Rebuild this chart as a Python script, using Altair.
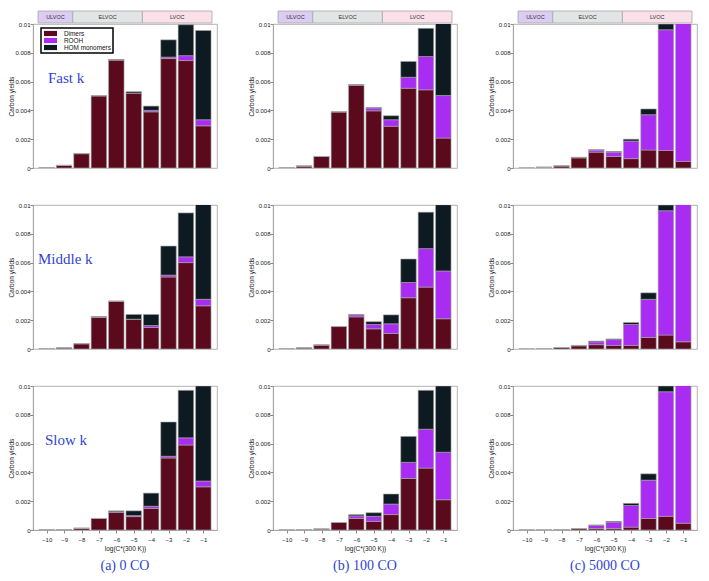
import altair as alt
import pandas as pd

# ---------------- data ----------------
logc = [-10, -9, -8, -7, -6, -5, -4, -3, -2, -1]
series = ["Dimers", "ROOH", "HOM monomers"]
series_colors = ["#5a0a1c", "#a82cf2", "#0e1a22"]
rates = ["Fast k", "Middle k", "Slow k"]
cases = ["(a) 0 CO", "(b) 100 CO", "(c) 5000 CO"]
y_ticks = [0, 0.002, 0.004, 0.006, 0.008, 0.01]

bands = ["ULVOC", "ELVOC", "LVOC"]
band_lo = [-10.5, -8.5, -4.5]
band_hi = [-8.5, -4.5, -0.5]
band_fill = ["#dccbf2", "#e1e5e5", "#fbdfe9"]

# Fast k
fast_0co_dimers = [0.00003, 0.00018, 0.001, 0.005, 0.0075, 0.0052, 0.0039, 0.0076, 0.00746, 0.00293]
fast_0co_rooh = [0, 0, 0, 0.00003, 0, 0, 0.0001, 0.0001, 0.00034, 0.00042]
fast_0co_hom = [0, 0, 0, 0, 0.00003, 0.0001, 0.0003, 0.0012, 0.00215, 0.0062]

fast_100co_dimers = [0.00002, 0.00014, 0.0008, 0.0039, 0.00575, 0.00397, 0.0029, 0.00554, 0.00543, 0.00208]
fast_100co_rooh = [0, 0, 0, 0, 0.00003, 0.00019, 0.00045, 0.00076, 0.00231, 0.00295]
fast_100co_hom = [0, 0, 0, 0, 0.00002, 0.00004, 0.00028, 0.0011, 0.00196, 0.0051]

fast_5000co_dimers = [0, 0.00005, 0.00015, 0.0007, 0.0011, 0.0008, 0.00065, 0.00125, 0.00122, 0.00046]
fast_5000co_rooh = [0, 0, 0, 0.00003, 0.00015, 0.0003, 0.00122, 0.00245, 0.00838, 0.0098]
fast_5000co_hom = [0, 0, 0, 0.00002, 0.00002, 0.00005, 0.00013, 0.0004, 0.0004, 0]

# Middle k
middle_0co_dimers = [0.00002, 0.00008, 0.00037, 0.0022, 0.0033, 0.00207, 0.0015, 0.005, 0.006, 0.003]
middle_0co_rooh = [0, 0, 0, 0.00002, 0.00002, 0, 0.00013, 0.00013, 0.0004, 0.00045]
middle_0co_hom = [0, 0, 0, 0.00003, 0.00001, 0.00033, 0.00077, 0.00202, 0.00305, 0.0066]

middle_100co_dimers = [0.00001, 0.00008, 0.00028, 0.00156, 0.00223, 0.0014, 0.00108, 0.00356, 0.0043, 0.0021]
middle_100co_rooh = [0, 0, 0, 0, 0.00014, 0.0003, 0.00067, 0.00106, 0.00267, 0.00332]
middle_100co_hom = [0, 0, 0, 0, 0.00003, 0.0002, 0.00062, 0.00163, 0.00253, 0.0046]

middle_5000co_dimers = [0, 0.00001, 0.0001, 0.00022, 0.0003, 0.00025, 0.00025, 0.0008, 0.00097, 0.0005]
middle_5000co_rooh = [0, 0, 0, 0.00002, 0.0002, 0.0004, 0.00145, 0.00265, 0.00863, 0.0096]
middle_5000co_hom = [0, 0, 0, 0.00001, 0.00005, 0.00005, 0.00014, 0.00045, 0.0004, 0]

# Slow k
slow_0co_dimers = [0.00001, 0.00003, 0.00012, 0.0008, 0.00123, 0.00093, 0.0015, 0.005, 0.0059, 0.003]
slow_0co_rooh = [0, 0, 0, 0, 0.00004, 0.00007, 0.00015, 0.00012, 0.0005, 0.0004]
slow_0co_hom = [0, 0, 0, 0, 0.00006, 0.00033, 0.00091, 0.00238, 0.0033, 0.0066]

slow_100co_dimers = [0, 0.00001, 0.00007, 0.00052, 0.0008, 0.0006, 0.00107, 0.00358, 0.0043, 0.0021]
slow_100co_rooh = [0, 0, 0, 0, 0.00018, 0.00035, 0.00073, 0.00112, 0.0027, 0.0033]
slow_100co_hom = [0, 0, 0, 0, 0.00009, 0.00025, 0.0007, 0.0018, 0.0027, 0.0046]

slow_5000co_dimers = [0, 0, 0.00002, 0.0001, 0.0001, 0.0001, 0.0002, 0.0008, 0.00095, 0.00047]
slow_5000co_rooh = [0, 0, 0, 0, 0.00022, 0.00045, 0.0015, 0.00266, 0.00865, 0.0096]
slow_5000co_hom = [0, 0, 0, 0, 0.00003, 0.00005, 0.00015, 0.00044, 0.0004, 0]

panel_data = {
    ("Fast k", "(a) 0 CO"): (fast_0co_dimers, fast_0co_rooh, fast_0co_hom),
    ("Fast k", "(b) 100 CO"): (fast_100co_dimers, fast_100co_rooh, fast_100co_hom),
    ("Fast k", "(c) 5000 CO"): (fast_5000co_dimers, fast_5000co_rooh, fast_5000co_hom),
    ("Middle k", "(a) 0 CO"): (middle_0co_dimers, middle_0co_rooh, middle_0co_hom),
    ("Middle k", "(b) 100 CO"): (middle_100co_dimers, middle_100co_rooh, middle_100co_hom),
    ("Middle k", "(c) 5000 CO"): (middle_5000co_dimers, middle_5000co_rooh, middle_5000co_hom),
    ("Slow k", "(a) 0 CO"): (slow_0co_dimers, slow_0co_rooh, slow_0co_hom),
    ("Slow k", "(b) 100 CO"): (slow_100co_dimers, slow_100co_rooh, slow_100co_hom),
    ("Slow k", "(c) 5000 CO"): (slow_5000co_dimers, slow_5000co_rooh, slow_5000co_hom),
}

BLUE = "#3044d0"
W, H = 184, 144
xscale = alt.Scale(domain=[-10.5, -0.5], nice=False, zero=False)
yscale = alt.Scale(domain=[0, 0.01], nice=False)


def panel(rate, case, row, col):
    recs = []
    for si, (name, vals) in enumerate(zip(series, panel_data[(rate, case)])):
        for x, v in zip(logc, vals):
            recs.append({"logc": x, "series": name, "order": si, "value": v})
    df = pd.DataFrame(recs)

    if row == 2:
        xaxis = alt.Axis(values=logc, title="log(C*(300 K))", labelPadding=3, titlePadding=3)
    else:
        xaxis = None

    bars = alt.Chart(df).mark_bar(size=15.5, clip=True, stroke="#a8a8a8", strokeWidth=0.6).encode(
        x=alt.X("logc:Q", scale=xscale, axis=xaxis),
        y=alt.Y("value:Q", stack="zero", scale=yscale,
                axis=alt.Axis(values=y_ticks, title="Carbon yields",
                              labelExpr="datum.value == 0 ? '0' : format(datum.value, '.3~f')")),
        color=alt.Color("series:N", scale=alt.Scale(domain=series, range=series_colors),
                        legend=alt.Legend(title=None)),
        order=alt.Order("order:Q"),
    )
    layers = [bars]

    if row == 0:
        bdf = pd.DataFrame({"band": bands, "lo": band_lo, "hi": band_hi, "fill": band_fill})
        bdf["mid"] = (bdf["lo"] + bdf["hi"]) / 2
        brect = alt.Chart(bdf).mark_rect(stroke="#a8a8a8", strokeWidth=0.8).encode(
            x=alt.X("lo:Q", scale=xscale, axis=None),
            x2="hi:Q",
            y=alt.value(-13),
            y2=alt.value(-1),
            fill=alt.Fill("fill:N", scale=None),
        )
        btext = alt.Chart(bdf).mark_text(fontSize=5.5, color="#333333", font="Liberation Sans",
                                          baseline="middle").encode(
            x=alt.X("mid:Q", scale=xscale, axis=None),
            y=alt.value(-7),
            text="band:N",
        )
        layers += [brect, btext]

    if col == 0:
        tx = {0: 15, 1: 5, 2: 12}[row]
        tdf = pd.DataFrame({"t": [rate]})
        rtext = alt.Chart(tdf).mark_text(font="Liberation Serif", fontSize=15, color=BLUE,
                                          align="left", baseline="middle").encode(
            x=alt.value(tx), y=alt.value(54), text="t:N")
        layers.append(rtext)

    return alt.layer(*layers).properties(width=W, height=H)


columns = []
for ci, case in enumerate(cases):
    col_chart = alt.vconcat(
        *[panel(rate, case, ri, ci) for ri, rate in enumerate(rates)],
        spacing=29,
        title=alt.TitleParams(case, orient="bottom", anchor="middle", font="Liberation Serif",
                              fontSize=14, color=BLUE, fontWeight="normal", dx=12, offset=7),
    )
    columns.append(col_chart)

legend_symbol = "M-2,-0.8H2V0.8H-2Z"

chart = alt.hconcat(*columns, spacing=30).properties(
    padding={"left": 0, "top": 2, "right": 2, "bottom": 2}
).configure_view(
    stroke="#a0a0a0", strokeWidth=0.8
).configure_axis(
    labelFont="Liberation Sans", titleFont="Liberation Sans",
    labelFontSize=6, titleFontSize=6.5, titleFontWeight="normal",
    labelColor="#222222", titleColor="#222222",
    tickSize=3, tickColor="#888888", domainColor="#a0a0a0", domainWidth=0.8,
    grid=False, labelPadding=0, titlePadding=0,
).configure_axisY(
    minExtent=0
).configure_legend(
    orient="none", legendX=8, legendY=4,
    strokeColor="black", strokeWidth=1.5, fillColor="white", padding=2,
    labelFont="Liberation Sans", labelFontSize=6.4, labelColor="#111111",
    symbolType=legend_symbol, symbolSize=42, symbolStrokeWidth=0,
    symbolOffset=4, rowPadding=0, labelOffset=10,
)

chart.save("out.html", embed_options={"renderer": "svg", "actions": False})
